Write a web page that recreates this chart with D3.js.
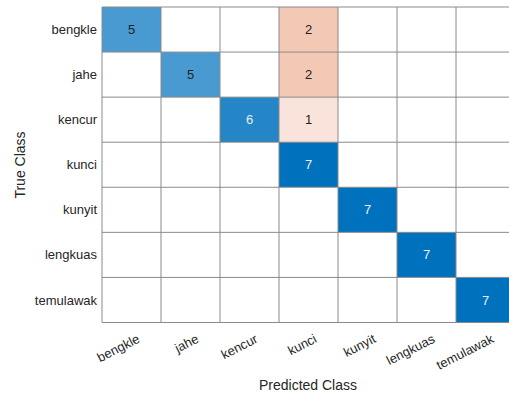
<!DOCTYPE html>
<html>
<head>
<meta charset="utf-8">
<script src="https://cdn.jsdelivr.net/npm/d3@7"></script>
<style>
  html, body { margin: 0; padding: 0; background: #fff; }
  svg { display: block; font-family: "Liberation Sans", Arial, Helvetica, sans-serif; }
</style>
</head>
<body>
<svg id="chart" width="509" height="396"></svg>
<script>
// Class names (rows = true class, columns = predicted class)
const classes = ["bengkle", "jahe", "kencur", "kunci", "kunyit", "lengkuas", "temulawak"];

// Confusion counts, one array per true class
const bengkleRow   = [5, 0, 0, 2, 0, 0, 0];
const jaheRow      = [0, 5, 0, 2, 0, 0, 0];
const kencurRow    = [0, 0, 6, 1, 0, 0, 0];
const kunciRow     = [0, 0, 0, 7, 0, 0, 0];
const kunyitRow    = [0, 0, 0, 0, 7, 0, 0];
const lengkuasRow  = [0, 0, 0, 0, 0, 7, 0];
const temulawakRow = [0, 0, 0, 0, 0, 0, 7];
const counts = [bengkleRow, jaheRow, kencurRow, kunciRow, kunyitRow, lengkuasRow, temulawakRow];

const xTitle = "Predicted Class";
const yTitle = "True Class";

const svg = d3.select("#chart");
const gridLeft = 102, gridTop = 7, cellW = 59, cellH = 45.07;
const n = classes.length;

const x = d3.scaleBand().domain(classes).range([gridLeft, gridLeft + n * cellW]);
const y = d3.scaleBand().domain(classes).range([gridTop, gridTop + n * cellH]);

const maxCount = d3.max(counts.flat());
const diagColor = d3.interpolateRgb("#ffffff", "#0072bd");
const offColor = d3.interpolateRgb("#ffffff", "#d95319");

const cells = [];
counts.forEach((row, i) => row.forEach((v, j) => cells.push({ t: classes[i], p: classes[j], v, diag: i === j })));

const g = svg.append("g");

// cell fills
g.selectAll("rect.cell").data(cells).join("rect")
  .attr("class", "cell")
  .attr("x", d => x(d.p))
  .attr("y", d => y(d.t))
  .attr("width", x.bandwidth())
  .attr("height", y.bandwidth())
  .attr("fill", d => d.v === 0 ? "#ffffff" : (d.diag ? diagColor(d.v / maxCount) : offColor(Math.min(1, d.v / maxCount * 1.12))));

// grid lines
const gridX = d3.range(n + 1).map(k => gridLeft + k * cellW);
const gridY = d3.range(n + 1).map(k => gridTop + k * cellH);
g.selectAll("line.vx").data(gridX).join("line")
  .attr("class", "vx")
  .attr("x1", d => d).attr("x2", d => d)
  .attr("y1", gridTop).attr("y2", gridTop + n * cellH)
  .attr("stroke", "#8a8a8a").attr("stroke-width", 1);
g.selectAll("line.hy").data(gridY).join("line")
  .attr("class", "hy")
  .attr("y1", d => d).attr("y2", d => d)
  .attr("x1", gridLeft).attr("x2", gridLeft + n * cellW)
  .attr("stroke", "#8a8a8a").attr("stroke-width", 1);

// cell values
g.selectAll("text.val").data(cells.filter(d => d.v > 0)).join("text")
  .attr("class", "val")
  .attr("x", d => x(d.p) + x.bandwidth() / 2)
  .attr("y", d => y(d.t) + y.bandwidth() / 2)
  .attr("dy", "0.35em")
  .attr("text-anchor", "middle")
  .attr("font-size", 13)
  .attr("fill", d => (d.diag && d.v / maxCount > 0.8) ? "#e8eef5" : "#222222")
  .text(d => d.v);

// y tick labels
g.selectAll("text.ylab").data(classes).join("text")
  .attr("class", "ylab")
  .attr("x", gridLeft - 5)
  .attr("y", d => y(d) + y.bandwidth() / 2)
  .attr("dy", "0.35em")
  .attr("text-anchor", "end")
  .attr("font-size", 13)
  .attr("fill", "#262626")
  .text(d => d);

// x tick labels, rotated
g.selectAll("text.xlab").data(classes).join("text")
  .attr("class", "xlab")
  .attr("transform", d => `translate(${x(d) + x.bandwidth() / 2 + 5},${gridTop + n * cellH + 11}) rotate(-27)`)
  .attr("dy", "0.71em")
  .attr("text-anchor", "end")
  .attr("font-size", 13)
  .attr("fill", "#262626")
  .text(d => d);

// axis titles
svg.append("text")
  .attr("x", 308)
  .attr("y", 390)
  .attr("text-anchor", "middle")
  .attr("font-size", 14)
  .attr("fill", "#262626")
  .text(xTitle);

svg.append("text")
  .attr("transform", "translate(25,165) rotate(-90)")
  .attr("text-anchor", "middle")
  .attr("font-size", 14)
  .attr("fill", "#262626")
  .text(yTitle);
</script>
</body>
</html>
